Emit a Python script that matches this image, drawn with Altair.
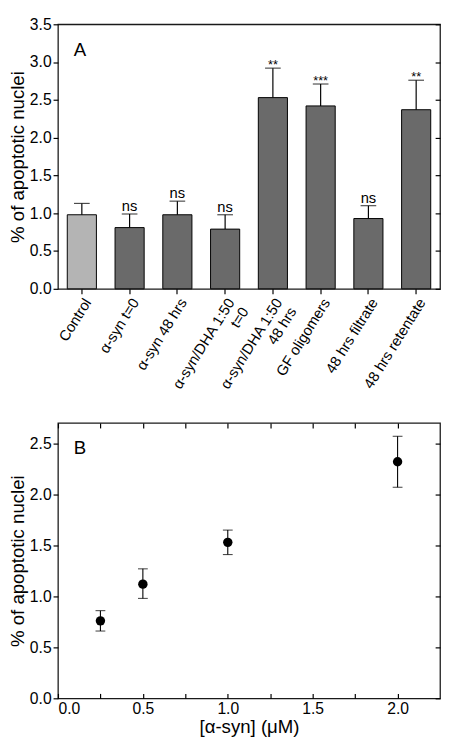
import altair as alt
import pandas as pd

# ---- Panel A data ----
categories = ["Control", "α-syn t=0", "α-syn 48 hrs", "α-syn/DHA 1:50|t=0",
              "α-syn/DHA 1:50|48 hrs", "GF oligomers", "48 hrs filtrate", "48 hrs retentate"]
groups = ["control", "treated", "treated", "treated", "treated", "treated", "treated", "treated"]
means = [0.98, 0.81, 0.98, 0.79, 2.53, 2.42, 0.93, 2.37]
upper = [1.13, 0.99, 1.16, 0.98, 2.92, 2.71, 1.10, 2.76]
significance = ["", "ns", "ns", "ns", "**", "***", "ns", "**"]

# ---- Panel B data ----
conc = [0.25, 0.5, 1.0, 2.0]
pct = [0.76, 1.12, 1.53, 2.32]
pct_lo = [0.66, 0.98, 1.41, 2.07]
pct_hi = [0.86, 1.27, 1.65, 2.57]

panel_letters = ["A", "B"]

dfa = pd.DataFrame({"cat": categories, "grp": groups, "mean": means, "upper": upper, "sig": significance})
dfb = pd.DataFrame({"conc": conc, "pct": pct, "lo": pct_lo, "hi": pct_hi})

FONT = "Liberation Sans"
NB = "\u00a0"
IN_TICK = {"expr": "-5"}

label_expr = (
    "datum.label == 'α-syn/DHA 1:50|t=0' ? ['α-syn/DHA 1:50', 't=0" + NB * 10 + "'] : "
    "datum.label == 'α-syn/DHA 1:50|48 hrs' ? ['α-syn/DHA 1:50', '48 hrs" + NB * 8 + "'] : datum.label"
)


def letter(txt):
    return alt.Chart(pd.DataFrame({"t": [txt]})).mark_text(
        font=FONT, fontSize=19, align="left", baseline="alphabetic", color="black"
    ).encode(x=alt.value(16), y=alt.value(32), text="t:N")


cat_scale = alt.Scale(paddingInner=0.39, paddingOuter=0.195)
xa = alt.X("cat:N", sort=categories, scale=cat_scale,
           axis=alt.Axis(title=None, labelAngle=-58, labelAlign="right", labelBaseline="top",
                         labelExpr=label_expr, labelFontSize=15, tickSize=5, labelPadding=2))
xa_noaxis = alt.X("cat:N", sort=categories, scale=cat_scale, axis=None)
ya_vals = [0, 0.5, 1.0, 1.5, 2.0, 2.5, 3.0, 3.5]
ya_scale = alt.Scale(domain=[0, 3.5], nice=False)

bars = alt.Chart(dfa).mark_bar(stroke="black", strokeWidth=1).encode(
    x=xa,
    y=alt.Y("mean:Q", scale=ya_scale,
            axis=alt.Axis(orient="left", title="% of apoptotic nuclei", values=ya_vals, format=".1f",
                          tickSize=5, titlePadding=2)),
    color=alt.Color("grp:N", scale=alt.Scale(domain=["control", "treated"], range=["#b4b4b4", "#6a6a6a"]), legend=None),
)
err_a = alt.Chart(dfa).mark_rule(color="black", strokeWidth=1.2).encode(
    x=xa_noaxis,
    y=alt.Y("mean:Q", scale=ya_scale,
            axis=alt.Axis(orient="right", title=None, labels=False, values=ya_vals, tickSize=IN_TICK)),
    y2="upper:Q",
)
cap_a = alt.Chart(dfa).mark_tick(color="black", size=16, thickness=1.2, orient="horizontal").encode(
    x=xa_noaxis,
    y=alt.Y("upper:Q", scale=ya_scale, axis=None),
)
ns_a = alt.Chart(dfa).transform_filter(alt.datum.sig == "ns").mark_text(
    font=FONT, fontSize=15, baseline="alphabetic", dy=-3, color="black").encode(
    x=xa_noaxis, y=alt.Y("upper:Q", scale=ya_scale, axis=None), text="sig:N")
star_a = alt.Chart(dfa).transform_filter("indexof(datum.sig, '*') >= 0").mark_text(
    font=FONT, fontSize=13, baseline="alphabetic", dy=1, color="black").encode(
    x=xa_noaxis, y=alt.Y("upper:Q", scale=ya_scale, axis=None), text="sig:N")

panel_a = alt.layer(bars, err_a, cap_a, ns_a, star_a, letter(panel_letters[0])).resolve_axis(
    x="independent", y="independent"
).properties(width=390, height=270)

# ---- Panel B ----
xb_scale = alt.Scale(domain=[0, 2.25], nice=False)
yb_scale = alt.Scale(domain=[0, 2.7], nice=False)
xb_vals = [0, 0.25, 0.5, 0.75, 1.0, 1.25, 1.5, 1.75, 2.0]
yb_vals = [0, 0.5, 1.0, 1.5, 2.0, 2.5]

pts = alt.Chart(dfb).mark_circle(size=92, color="black", opacity=1).encode(
    x=alt.X("conc:Q", scale=xb_scale,
            axis=alt.Axis(orient="bottom", title="[α-syn] (μM)", values=xb_vals, tickSize=IN_TICK, labelPadding=8,
                          labelExpr="datum.value % 0.5 == 0 ? format(datum.value, '.1f') : ''", titlePadding=1)),
    y=alt.Y("pct:Q", scale=yb_scale,
            axis=alt.Axis(orient="left", title="% of apoptotic nuclei", values=yb_vals, format=".1f",
                          tickSize=5, titlePadding=2)),
)
err_b = alt.Chart(dfb).mark_rule(color="black", strokeWidth=1.1).encode(
    x=alt.X("conc:Q", scale=xb_scale,
            axis=alt.Axis(orient="top", title=None, labels=False, values=xb_vals, tickSize=IN_TICK)),
    y=alt.Y("lo:Q", scale=yb_scale,
            axis=alt.Axis(orient="right", title=None, labels=False, values=yb_vals, tickSize=IN_TICK)),
    y2="hi:Q",
)
cap_lo = alt.Chart(dfb).mark_tick(color="black", size=10, thickness=1.1, orient="horizontal").encode(
    x=alt.X("conc:Q", scale=xb_scale, axis=None), y=alt.Y("lo:Q", scale=yb_scale, axis=None))
cap_hi = alt.Chart(dfb).mark_tick(color="black", size=10, thickness=1.1, orient="horizontal").encode(
    x=alt.X("conc:Q", scale=xb_scale, axis=None), y=alt.Y("hi:Q", scale=yb_scale, axis=None))

panel_b = alt.layer(pts, err_b, cap_lo, cap_hi, letter(panel_letters[1])).resolve_axis(
    x="independent", y="independent"
).properties(width=390, height=281)

chart = alt.vconcat(panel_a, panel_b, spacing=20).properties(padding=0).configure_view(
    stroke="#1a1a1a", strokeWidth=1.3
).configure_axis(
    grid=False, domain=False, labelFont=FONT, labelFontSize=16, labelColor="black",
    titleFont=FONT, titleFontSize=19, titleFontWeight="normal", titleColor="black",
    tickColor="black", tickWidth=1.2,
)

chart.save("out.html", embed_options={"renderer": "svg", "actions": False})
